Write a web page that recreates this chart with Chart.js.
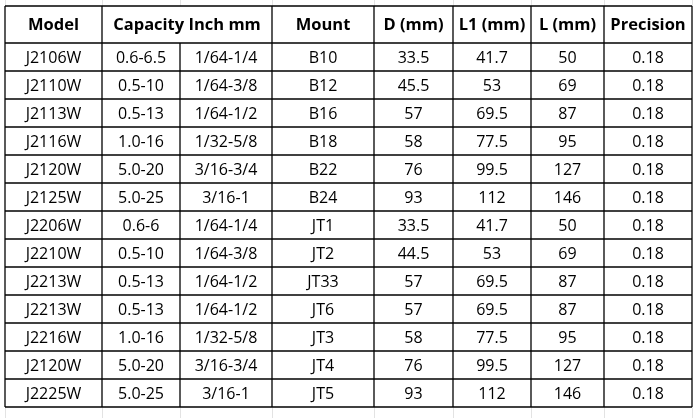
<!DOCTYPE html>
<html><head><meta charset="utf-8">
<script src="https://cdn.jsdelivr.net/npm/chart.js@4"></script>
<style>html,body{margin:0;padding:0;background:#fff}</style>
</head><body>
<canvas id="c" width="699" height="418"></canvas>
<script>
const headers = ["Model","Capacity Inch mm","Mount","D (mm)","L1 (mm)","L (mm)","Precision"];
const models = ["J2106W","J2110W","J2113W","J2116W","J2120W","J2125W","J2206W","J2210W","J2213W","J2213W","J2216W","J2120W","J2225W"];
const capacityMm = ["0.6-6.5","0.5-10","0.5-13","1.0-16","5.0-20","5.0-25","0.6-6","0.5-10","0.5-13","0.5-13","1.0-16","5.0-20","5.0-25"];
const capacityInch = ["1/64-1/4","1/64-3/8","1/64-1/2","1/32-5/8","3/16-3/4","3/16-1","1/64-1/4","1/64-3/8","1/64-1/2","1/64-1/2","1/32-5/8","3/16-3/4","3/16-1"];
const mounts = ["B10","B12","B16","B18","B22","B24","JT1","JT2","JT33","JT6","JT3","JT4","JT5"];
const dValues = [33.5,45.5,57,58,76,93,33.5,44.5,57,57,58,76,93];
const l1Values = [41.7,53,69.5,77.5,99.5,112,41.7,53,69.5,69.5,77.5,99.5,112];
const lValues = [50,69,87,95,127,146,50,69,87,87,95,127,146];
const precision = ["0.18","0.18","0.18","0.18","0.18","0.18","0.18","0.18","0.18","0.18","0.18","0.18","0.18"];

const colEdges = [0,97,175,267,369,448,526,599,687];
const headerH = 37, rowH = 28;
const nRows = models.length;
const totalH = headerH + rowH*nRows;

const tablePlugin = {
  id:'table',
  afterDraw(chart){
    const ctx = chart.ctx, xs = chart.scales.x, ys = chart.scales.y;
    const X = v=>xs.getPixelForValue(v), Y = v=>ys.getPixelForValue(v);
    ctx.save();
    ctx.strokeStyle='#e3e3e3'; ctx.lineWidth=1;
    colEdges.forEach(e=>{const px=Math.round(X(e))+.5;
      ctx.beginPath();ctx.moveTo(px,0);ctx.lineTo(px,Y(0));ctx.stroke();
      ctx.beginPath();ctx.moveTo(px,Y(totalH));ctx.lineTo(px,418);ctx.stroke();});
    ctx.strokeStyle='#000'; ctx.lineWidth=1.3;
    for(let r=0;r<=nRows+1;r++){
      const yv = r===0?0:headerH+rowH*(r-1);
      ctx.beginPath();ctx.moveTo(X(colEdges[0]),Y(yv));ctx.lineTo(X(colEdges[8]),Y(yv));ctx.stroke();
    }
    colEdges.forEach((e,i)=>{
      ctx.beginPath();
      ctx.moveTo(X(e), i===2?Y(headerH):Y(0));
      ctx.lineTo(X(e), Y(totalH));ctx.stroke();
    });
    ctx.fillStyle='#000'; ctx.textAlign='center'; ctx.textBaseline='middle';
    ctx.font='bold 16.5px "Open Sans", sans-serif';
    const hCenters=[(colEdges[0]+colEdges[1])/2,(colEdges[1]+colEdges[3])/2];
    for(let i=3;i<8;i++) hCenters.push((colEdges[i]+colEdges[i+1])/2);
    headers.forEach((h,i)=>ctx.fillText(h,X(hCenters[i]),Y(headerH/2)+1));
    ctx.font='16px "Open Sans", sans-serif';
    const cols=[models,capacityMm,capacityInch,mounts,dValues,l1Values,lValues,precision];
    for(let r=0;r<nRows;r++){
      const yc=Y(headerH+rowH*r+rowH/2)+1;
      cols.forEach((c,i)=>ctx.fillText(String(c[r]),X((colEdges[i]+colEdges[i+1])/2),yc));
    }
    ctx.restore();
  }
};

new Chart(document.getElementById('c'),{
  type:'scatter',
  data:{datasets:[{data:[]}]},
  options:{
    responsive:false, animation:false, devicePixelRatio:1,
    layout:{padding:{left:5,top:6,right:7,bottom:11}},
    plugins:{legend:{display:false},tooltip:{enabled:false}},
    scales:{
      x:{type:'linear',min:0,max:colEdges[8],display:false},
      y:{type:'linear',min:0,max:totalH,reverse:true,display:false}
    }
  },
  plugins:[tablePlugin]
});
</script>
</body></html>
